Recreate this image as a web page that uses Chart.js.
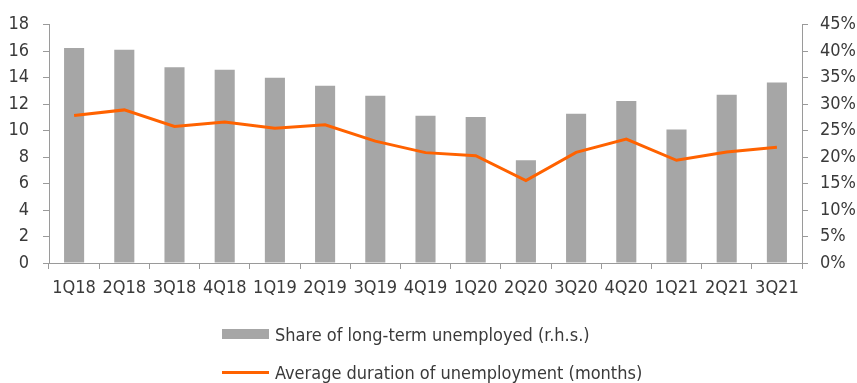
<!DOCTYPE html>
<html>
<head>
<meta charset="utf-8">
<script src="https://cdn.jsdelivr.net/npm/chart.js@4.4.1/dist/chart.umd.min.js"></script>
<style>
  html, body { margin: 0; padding: 0; background: #ffffff; }
  #wrap { position: relative; width: 857px; height: 383px; overflow: hidden; }
  #legend { position: absolute; left: 222px; top: 319px; font-family: "DejaVu Sans Condensed", "Liberation Sans", sans-serif; font-size: 18px; color: #3a3a3a; }
  .row { display: flex; align-items: center; height: 30px; margin-bottom: 8px; white-space: nowrap; }
  .sw { width: 47px; margin-right: 6px; }
</style>
</head>
<body>
<div id="wrap">
  <canvas id="c" width="857" height="383"></canvas>
  <div id="legend"></div>
</div>
<script>
const categories = ["1Q18","2Q18","3Q18","4Q18","1Q19","2Q19","3Q19","4Q19","1Q20","2Q20","3Q20","4Q20","1Q21","2Q21","3Q21"];
const shareLongTerm = [40.6, 40.3, 37.0, 36.5, 35.0, 33.5, 31.6, 27.8, 27.6, 19.4, 28.2, 30.6, 25.2, 31.8, 34.1];
const avgDuration = [11.15, 11.57, 10.32, 10.65, 10.19, 10.44, 9.21, 8.34, 8.11, 6.23, 8.36, 9.36, 7.76, 8.39, 8.74];
const shareLabel = "Share of long-term unemployed (r.h.s.)";
const durationLabel = "Average duration of unemployment (months)";

const FONT = "'DejaVu Sans Condensed', 'Liberation Sans', sans-serif";
const TEXT = "#3a3a3a";
const AXIS = "#9a9a9a";
const BAR = "#a6a6a6";
const ORANGE = "#ff6200";

const chart = new Chart(document.getElementById("c"), {
  data: {
    labels: categories,
    datasets: [
      { type: "line", label: durationLabel, data: avgDuration, yAxisID: "yL",
        borderColor: ORANGE, backgroundColor: ORANGE, borderWidth: 3, pointRadius: 0, tension: 0, order: 0 },
      { type: "bar", label: shareLabel, data: shareLongTerm, yAxisID: "yR",
        backgroundColor: BAR, borderWidth: 0, barPercentage: 0.8, categoryPercentage: 0.5, order: 1 }
    ]
  },
  options: {
    responsive: false,
    animation: false,
    devicePixelRatio: 1,
    layout: { padding: { top: 24, bottom: 0, left: 0, right: 0 } },
    plugins: { legend: { display: false }, tooltip: { enabled: false } },
    scales: {
      x: {
        offset: true,
        grid: { display: true, offset: true, drawOnChartArea: false, drawTicks: true, tickLength: 6, color: AXIS },
        border: { display: true, color: AXIS },
        ticks: { font: { family: FONT, size: 18 }, color: TEXT, padding: 9, maxRotation: 0, autoSkip: false },
        afterFit: s => { s.height = 120; }
      },
      yL: {
        position: "left", min: 0, max: 18,
        grid: { drawOnChartArea: false, drawTicks: true, tickLength: 6, color: AXIS },
        border: { display: true, color: AXIS },
        ticks: { stepSize: 2, font: { family: FONT, size: 18 }, color: TEXT, padding: 14 },
        afterFit: s => { s.width = 49; }
      },
      yR: {
        position: "right", min: 0, max: 45,
        grid: { drawOnChartArea: false, drawTicks: true, tickLength: 6, color: AXIS },
        border: { display: true, color: AXIS },
        ticks: { stepSize: 5, font: { family: FONT, size: 18 }, color: TEXT, padding: 12, callback: v => v + "%" },
        afterFit: s => { s.width = 55; }
      }
    }
  }
});

// HTML legend built from the chart datasets (bar first, then line)
const legend = document.getElementById("legend");
[chart.data.datasets[1], chart.data.datasets[0]].forEach(ds => {
  const row = document.createElement("div");
  row.className = "row";
  const sw = document.createElement("div");
  sw.className = "sw";
  if (ds.type === "bar") { sw.style.height = "10px"; sw.style.background = ds.backgroundColor; }
  else { sw.style.height = "3px"; sw.style.background = ds.borderColor; }
  const t = document.createElement("span");
  t.textContent = ds.label;
  row.appendChild(sw); row.appendChild(t);
  legend.appendChild(row);
});
</script>
</body>
</html>
